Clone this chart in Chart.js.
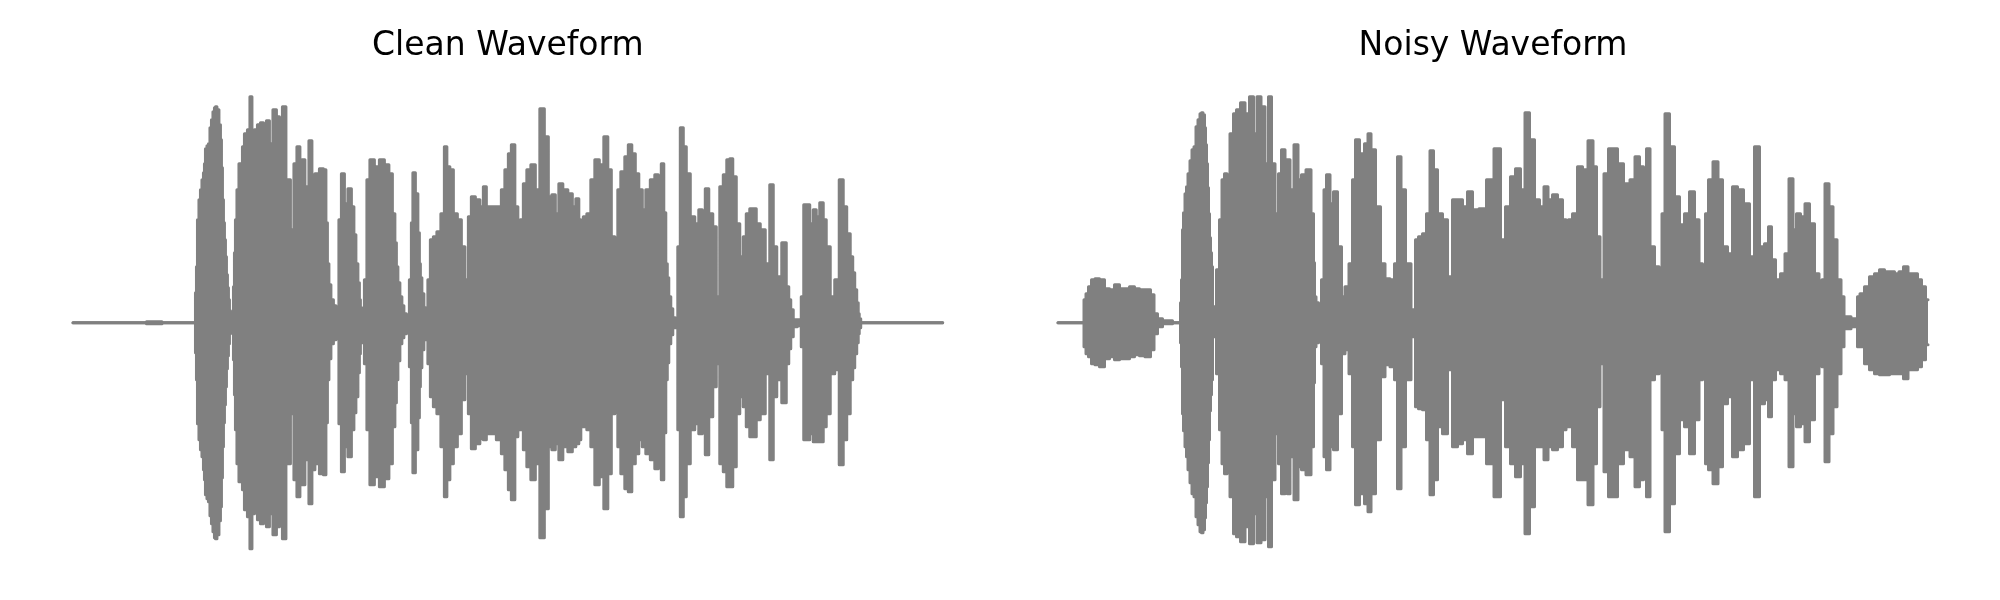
<!DOCTYPE html>
<html>
<head>
<meta charset="utf-8">
<script src="https://cdn.jsdelivr.net/npm/chart.js@4/dist/chart.umd.min.js"></script>
<style>
  body { margin: 0; background: #fff; }
  .panel { position: absolute; top: 0; width: 1000px; height: 600px; }
</style>
</head>
<body>
<div class="panel" style="left:0"><canvas id="cleanChart" width="1000" height="600"></canvas></div>
<div class="panel" style="left:1000px"><canvas id="noisyChart" width="1000" height="600"></canvas></div>
<script>
// envelope of each waveform: time offset + upper/lower peak
const cleanT = [0,72,75,87,91,122,
    123,124,125,127,128,130,131,132,133,135,136,138,139,141,142,143,145,147,148,149,150,151,152,153,154,155,156,157,158,
    160,161,162,163,165,167,169,170,173,176,178,180,183,186,189,192,195,198,202,205,208,211,215,220,222,226,228,230,234,238,240,244,249,252,
    254,255,257,259,262,264,265,267,270,273,277,280,282,284,286,287,288,290,293,295,299,304,309,314,318,321,323,324,326,328,330,332,335,
    338,339,341,344,346,347,348,350,352,354,356,359,362,366,370,373,375,379,382,387,390,394,397,400,405,409,412,415,420,
    427,430,434,437,440,444,446,449,452,456,460,465,469,474,477,481,484,488,492,498,501,505,507,509,512,516,520,524,529,533,537,540,544,546,550,554,557,561,564,568,571,575,580,584,587,590,
    592,594,595,597,599,601,604,606,609,612,615,620,624,628,631,634,638,642,645,649,652,656,658,662,665,669,672,675,679,682,685,690,695,699,702,706,712,715,717,719,722,727,730,
    732,735,739,742,745,749,752,755,760,764,769,772,776,779,781,783,785,786,787,789,870];
const cleanHi = [0,0,1,1,0,0,
    30,56,103,123,133,143,150,159,174,177,179,195,203,211,215,216,213,198,183,155,123,100,83,66,48,35,23,12,2,
    3,36,70,103,133,159,149,176,189,193,226,188,193,198,200,199,202,179,213,206,169,216,143,93,159,176,146,163,136,182,143,149,154,153,
    100,59,38,23,17,13,6,103,149,119,134,116,88,59,40,23,15,5,43,143,163,156,163,158,149,109,80,56,40,26,17,9,1,
    43,100,150,129,90,59,45,29,15,5,43,83,86,91,109,176,156,153,109,103,76,43,106,126,123,116,136,116,116,
    116,133,153,169,178,116,79,103,139,153,158,133,214,186,126,128,109,139,133,129,116,124,103,33,106,109,143,163,158,186,153,86,36,133,151,166,178,169,149,133,113,133,143,148,123,159,
    110,59,45,26,14,5,3,76,195,176,149,106,99,113,99,134,109,96,26,136,148,163,164,146,99,66,86,109,114,114,99,93,59,138,76,46,80,36,23,13,3,3,26,
    118,118,99,113,106,120,103,76,26,43,143,116,89,66,50,33,20,9,4,0,0];
const cleanLo = [0,0,-1,-1,0,0,
    -30,-57,-101,-117,-127,-134,-147,-157,-172,-176,-179,-193,-201,-209,-215,-216,-212,-198,-184,-155,-124,-100,-82,-64,-46,-33,-21,-11,-2,
    -3,-37,-72,-107,-141,-159,-139,-167,-187,-194,-226,-191,-187,-197,-201,-199,-204,-191,-212,-204,-171,-216,-141,-91,-157,-174,-147,-162,-137,-181,-147,-141,-151,-152,
    -100,-57,-36,-21,-17,-14,-7,-101,-149,-124,-134,-107,-90,-74,-50,-31,-20,-6,-41,-107,-162,-154,-164,-156,-141,-104,-80,-57,-38,-21,-15,-11,-2,
    -44,-100,-150,-127,-95,-64,-45,-27,-17,-9,-41,-74,-84,-91,-124,-174,-157,-141,-124,-111,-77,-51,-91,-126,-121,-116,-117,-111,-111,
    -117,-131,-147,-167,-177,-114,-77,-107,-127,-144,-157,-141,-215,-186,-124,-127,-121,-137,-124,-129,-124,-121,-117,-31,-104,-107,-124,-162,-154,-186,-151,-91,-34,-124,-151,-166,-169,-141,-131,-117,-124,-131,-137,-146,-131,-157,
    -110,-57,-40,-21,-12,-5,-3,-107,-194,-174,-141,-107,-101,-111,-101,-132,-94,-64,-41,-141,-149,-164,-164,-144,-91,-74,-84,-104,-114,-114,-97,-91,-51,-137,-74,-57,-80,-41,-26,-14,-4,-3,-24,
    -117,-117,-111,-119,-119,-119,-104,-91,-51,-47,-142,-117,-91,-57,-45,-31,-20,-11,-5,0,0];

const noisyT = [0,25,27,29,32,35,39,44,49,54,59,64,69,74,79,84,90,95,97,102,107,122,
    123,124,125,126,128,129,131,133,135,137,139,141,143,144,146,147,148,149,150,151,152,153,154,155,157,
    160,163,165,168,170,174,177,180,185,189,194,197,201,205,209,212,215,219,222,225,229,230,234,238,242,245,251,255,
    256,257,259,262,265,267,270,274,277,282,285,289,293,296,299,304,309,311,315,320,325,329,335,338,341,345,350,356,359,362,367,370,374,377,382,387,392,397,402,407,412,417,425,432,440,
    445,450,455,460,465,469,474,479,484,488,492,497,502,507,509,512,517,522,527,533,537,540,544,548,553,557,562,569,575,579,584,587,590,594,599,603,605,609,614,619,624,629,634,639,643,646,649,652,658,662,667,672,677,682,689,694,699,704,709,712,715,720,725,729,733,737,740,745,749,754,759,763,765,769,773,777,781,785,787,799,800,804,809,814,819,824,829,834,839,843,848,852,857,862,865,870];
const noisyHi = [0,0,23,29,36,43,44,43,34,33,38,34,34,36,34,33,33,28,9,4,2,0,
    20,43,93,110,129,136,149,162,173,176,196,203,209,210,208,195,178,159,135,109,85,70,56,9,16,
    53,103,143,149,143,189,209,213,220,209,226,189,226,216,159,226,159,109,149,173,163,163,133,178,143,148,153,109,
    60,26,20,16,43,133,148,119,131,76,26,36,59,143,183,169,179,189,173,116,59,44,43,59,166,133,59,13,83,86,89,109,172,153,109,103,46,123,123,116,131,113,114,143,174,
    83,116,146,154,133,210,183,123,116,136,123,128,123,103,29,103,109,156,153,182,156,86,43,149,174,174,159,139,143,166,156,133,174,76,56,43,109,209,176,126,98,109,131,103,59,23,109,143,161,143,76,69,136,133,119,66,176,76,79,96,63,43,49,69,144,93,109,106,119,99,49,16,43,139,116,83,43,26,6,4,26,29,36,46,49,53,51,51,49,51,56,49,49,43,36,23];
const noisyLo = [0,0,-24,-31,-34,-41,-42,-44,-36,-34,-37,-36,-36,-34,-32,-33,-34,-27,-11,-4,-1,0,
    -20,-44,-91,-108,-124,-134,-147,-160,-171,-174,-194,-202,-209,-210,-207,-195,-180,-164,-140,-117,-88,-72,-57,-11,-14,
    -51,-107,-141,-151,-131,-174,-211,-214,-219,-204,-221,-191,-220,-217,-174,-224,-157,-111,-141,-171,-157,-171,-134,-177,-144,-147,-152,-124,
    -60,-24,-20,-16,-41,-134,-147,-124,-127,-91,-31,-27,-51,-124,-182,-171,-181,-189,-171,-117,-54,-42,-44,-57,-166,-124,-57,-14,-84,-86,-87,-117,-172,-157,-104,-111,-47,-124,-121,-117,-131,-114,-114,-141,-174,
    -77,-124,-141,-154,-141,-211,-184,-124,-124,-137,-124,-127,-124,-107,-27,-104,-124,-157,-157,-182,-141,-84,-41,-149,-174,-174,-141,-127,-134,-164,-157,-127,-174,-57,-51,-44,-107,-209,-181,-131,-97,-104,-131,-97,-57,-21,-141,-147,-161,-144,-81,-74,-134,-127,-121,-57,-174,-81,-77,-94,-57,-47,-51,-57,-144,-91,-104,-101,-119,-97,-51,-21,-44,-139,-111,-84,-51,-24,-6,-4,-24,-24,-41,-47,-51,-52,-52,-51,-51,-51,-56,-47,-47,-44,-37,-22];

const titles = ["Clean Waveform", "Noisy Waveform"];

const GREY = "#808080";

function makeWaveChart(canvasId, title, t, hi, lo, pad) {
    let ctx = document.getElementById(canvasId).getContext("2d");
    let line = {
        borderColor: GREY,
        borderWidth: 3,
        borderJoinStyle: "round",
        borderCapStyle: "round",
        pointRadius: 0,
        stepped: "middle",
        clip: false
    };
    return new Chart(ctx, {
        type: "line",
        data: {
            datasets: [
                { ...line, label: "upper", data: t.map((x, i) => ({ x: x, y: hi[i] })), fill: "+1", backgroundColor: GREY },
                { ...line, label: "lower", data: t.map((x, i) => ({ x: x, y: lo[i] })), fill: false }
            ]
        },
        options: {
            responsive: false,
            devicePixelRatio: 1,
            animation: false,
            events: [],
            layout: { autoPadding: false, padding: pad },
            scales: {
                x: { type: "linear", display: false, min: 0, max: 870 },
                y: { display: false, min: -230, max: 230 }
            },
            plugins: {
                legend: { display: false },
                tooltip: { enabled: false },
                title: {
                    display: true,
                    text: title,
                    color: "#000",
                    font: { family: "'DejaVu Sans'", size: 33, weight: "normal", lineHeight: 1.2 },
                    padding: { top: 26.2, bottom: 26.9 }
                }
            }
        }
    });
}

makeWaveChart("cleanChart", titles[0], cleanT, cleanHi, cleanLo, { left: 73, right: 57.3, top: 0, bottom: 47.3 });
makeWaveChart("noisyChart", titles[1], noisyT, noisyHi, noisyLo, { left: 58, right: 72, top: 0, bottom: 47.3 });
</script>
</body>
</html>
